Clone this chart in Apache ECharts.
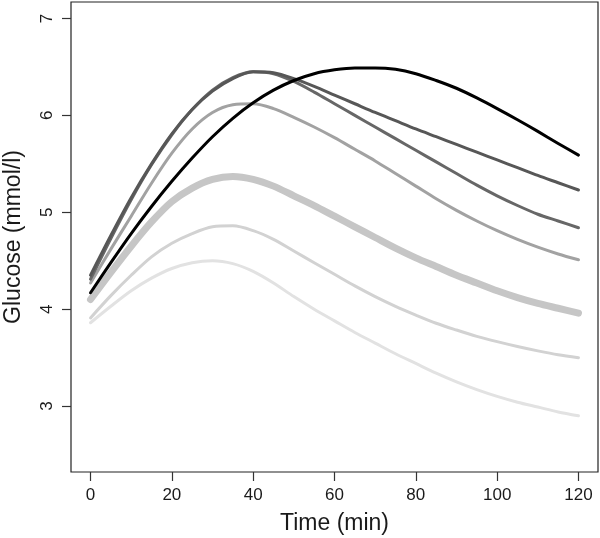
<!DOCTYPE html>
<html>
<head>
<meta charset="utf-8">
<script src="https://cdn.jsdelivr.net/npm/echarts@6/dist/echarts.min.js"></script>
<style>
html,body{margin:0;padding:0;background:#fff;}
#chart{width:600px;height:538px;}
</style>
</head>
<body>
<div id="chart"></div>
<script>
// Time points (min)
var times = [0, 5, 10, 15, 20, 25, 30, 35, 40, 45, 50, 55, 60, 65, 70, 75, 80, 85, 90, 95, 100, 105, 110, 115, 120];
// Glucose curves (mmol/l)
var curveBlack    = [4.17, 4.48, 4.78, 5.06, 5.32, 5.56, 5.78, 5.97, 6.13, 6.26, 6.36, 6.43, 6.47, 6.49, 6.49, 6.475, 6.43, 6.36, 6.28, 6.18, 6.07, 5.955, 5.835, 5.71, 5.59];
var curveDarkA    = [4.35, 4.76, 5.15, 5.50, 5.81, 6.06, 6.25, 6.38, 6.45, 6.44, 6.38, 6.30, 6.21, 6.12, 6.03, 5.945, 5.86, 5.78, 5.70, 5.62, 5.54, 5.46, 5.38, 5.305, 5.23];
var curveDarkB    = [4.31, 4.73, 5.13, 5.49, 5.80, 6.06, 6.26, 6.39, 6.45, 6.43, 6.35, 6.24, 6.12, 6.00, 5.88, 5.76, 5.64, 5.52, 5.40, 5.28, 5.17, 5.07, 4.98, 4.91, 4.84];
var curveMedium   = [4.27, 4.62, 4.96, 5.30, 5.61, 5.86, 6.03, 6.11, 6.12, 6.07, 5.98, 5.88, 5.77, 5.65, 5.53, 5.40, 5.27, 5.14, 5.02, 4.91, 4.81, 4.72, 4.64, 4.57, 4.51];
var curveThick    = [4.10, 4.38, 4.65, 4.90, 5.11, 5.25, 5.34, 5.37, 5.34, 5.27, 5.17, 5.07, 4.96, 4.85, 4.74, 4.63, 4.53, 4.44, 4.35, 4.27, 4.19, 4.12, 4.06, 4.01, 3.96];
var curveLight    = [3.91, 4.14, 4.35, 4.54, 4.68, 4.78, 4.85, 4.86, 4.81, 4.72, 4.60, 4.48, 4.36, 4.24, 4.13, 4.03, 3.94, 3.855, 3.785, 3.72, 3.665, 3.615, 3.57, 3.53, 3.50];
var curveLightest = [3.86, 4.03, 4.19, 4.32, 4.42, 4.48, 4.50, 4.47, 4.39, 4.27, 4.13, 4.00, 3.88, 3.76, 3.65, 3.54, 3.44, 3.34, 3.25, 3.17, 3.10, 3.04, 2.99, 2.94, 2.90];
// Tick values
var xTicks = [0, 20, 40, 60, 80, 100, 120];
var yTicks = [3, 4, 5, 6, 7];

function pairs(arr){ return times.map(function(t,i){ return [t, arr[i]]; }); }

var font = 'Liberation Sans, Arial, Helvetica, sans-serif';
var seriesDefs = [
  {d: curveLightest, c: '#e2e2e2', w: 3},
  {d: curveLight,    c: '#d2d2d2', w: 3},
  {d: curveThick,    c: '#c6c6c6', w: 7},
  {d: curveMedium,   c: '#a2a2a2', w: 3},
  {d: curveDarkB,    c: '#676767', w: 3},
  {d: curveDarkA,    c: '#575757', w: 3},
  {d: curveBlack,    c: '#000000', w: 3}
];

var chart = echarts.init(document.getElementById('chart'), null, {renderer: 'canvas'});
chart.setOption({
  animation: false,
  backgroundColor: '#ffffff',
  grid: {left: 71, top: 2, right: 2, bottom: 66, show: true, borderColor: '#222', borderWidth: 1.2,
         backgroundColor: 'transparent', containLabel: false, outerBoundsMode: 'none'},
  xAxis: {
    type: 'value', min: -4.8, max: 124.8,
    axisLine: {show: false, onZero: false},
    splitLine: {show: false},
    axisTick: {show: true, length: 9, customValues: xTicks, lineStyle: {color: '#333', width: 1.2}},
    axisLabel: {customValues: xTicks, margin: 15, fontSize: 17, color: '#1a1a1a', fontFamily: font},
    name: 'Time (min)', nameLocation: 'middle', nameGap: 40,
    nameTextStyle: {fontSize: 23, color: '#1a1a1a', fontFamily: font}
  },
  yAxis: {
    type: 'value', min: 2.32, max: 7.17,
    axisLine: {show: false, onZero: false},
    splitLine: {show: false},
    axisTick: {show: true, length: 9, customValues: yTicks, lineStyle: {color: '#333', width: 1.2}},
    axisLabel: {customValues: yTicks, rotate: 90, margin: 15, fontSize: 17, color: '#1a1a1a', fontFamily: font},
    name: 'Glucose (mmol/l)', nameLocation: 'middle', nameGap: 46,
    nameTextStyle: {fontSize: 23, color: '#1a1a1a', fontFamily: font}
  },
  series: seriesDefs.map(function(s){
    return {
      type: 'line', data: pairs(s.d), smooth: 0.3, symbol: 'none',
      lineStyle: {color: s.c, width: s.w, cap: 'round', join: 'round'},
      silent: true
    };
  })
});
</script>
</body>
</html>
